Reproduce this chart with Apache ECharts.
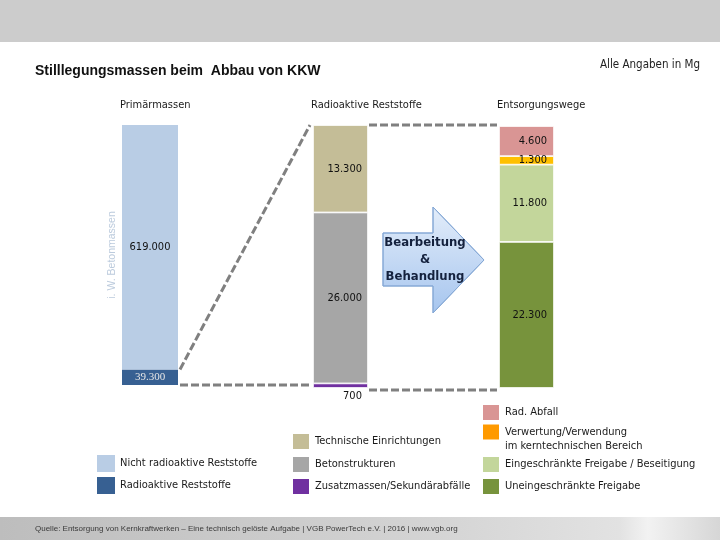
<!DOCTYPE html>
<html>
<head>
<meta charset="utf-8">
<script src="https://cdn.jsdelivr.net/npm/echarts@6/dist/echarts.min.js"></script>
<style>html,body{margin:0;padding:0;background:#fff}#c{width:720px;height:540px}</style>
</head>
<body>
<div id="c"></div>
<script>
// ---- data ----
const columnHeaders = ['Primärmassen', 'Radioaktive Reststoffe', 'Entsorgungswege'];
const primaryNames = ['Radioaktive Reststoffe', 'Nicht radioaktive Reststoffe'];
const primaryValues = [39300, 619000];
const radioNames = ['Zusatzmassen/Sekundärabfälle', 'Betonstrukturen', 'Technische Einrichtungen'];
const radioValues = [700, 26000, 13300];
const disposalNames = ['Uneingeschränkte Freigabe', 'Eingeschränkte Freigabe / Beseitigung', 'Verwertung/Verwendung im kerntechnischen Bereich', 'Rad. Abfall'];
const disposalValues = [22300, 11800, 1300, 4600];

// ---- styling ----
const NARROW = "'Liberation Sans Narrow','DejaVu Sans Condensed','Liberation Sans',sans-serif";
const SANS = "'Liberation Sans',Arial,sans-serif";
const primaryColors = ['#376092', '#b9cde5'];
const radioColors = ['#7030a0', '#a6a6a6', '#c4bd97'];
const disposalColors = ['#77933c', '#c3d69b', '#ffc000', '#d99594'];
const G = [
  {left: 122, top: 125, width: 56, height: 260},
  {left: 313, top: 125, width: 55, height: 263},
  {left: 499, top: 126, width: 55, height: 262}
];
const sum = a => a.reduce((s, v) => s + v, 0);
const fmt = v => String(v).replace(/\B(?=(\d{3})+(?!\d))/g, '.');

const chart = echarts.init(document.getElementById('c'));

function barSeries(names, values, colors, gi, labelFn) {
  return names.map((n, i) => ({
    type: 'bar', name: n, stack: 's' + gi, xAxisIndex: gi, yAxisIndex: gi,
    barWidth: '100%', data: [values[i]],
    itemStyle: {color: colors[i], borderColor: '#fff', borderWidth: (gi === 0 ? 0 : 0.8)},
    label: Object.assign({show: true, formatter: p => fmt(p.value), fontFamily: NARROW, fontSize: 11, color: '#111'}, labelFn(i)),
    emphasis: {disabled: true}
  }));
}

const series = [].concat(
  barSeries(primaryNames, primaryValues, primaryColors, 0, i => i === 0
    ? {position: 'inside', color: '#e6e6e6', fontFamily: "'Liberation Serif',serif", fontSize: 11}
    : {position: 'inside'}),
  barSeries(radioNames, radioValues, radioColors, 1, i => i === 0
    ? {position: 'bottom', distance: 3, offset: [12, 0]}
    : {position: 'insideRight', distance: 6}),
  barSeries(disposalNames, disposalValues, disposalColors, 2, i => ({position: 'insideRight', distance: 7}))
);

const hiddenAxis = {axisLine: {show: false}, axisTick: {show: false}, axisLabel: {show: false}, splitLine: {show: false}};

// legends: one component per item, positioned
const legendTxt = {fontFamily: NARROW, fontSize: 11, color: '#1a1a1a'};
const legendItems = [
  {name: 'Nicht radioaktive Reststoffe', left: 97, top: 455},
  {name: 'Radioaktive Reststoffe', left: 97, top: 477},
  {name: 'Technische Einrichtungen', left: 291, top: 432},
  {name: 'Betonstrukturen', left: 291, top: 455},
  {name: 'Zusatzmassen/Sekundärabfälle', left: 291, top: 477},
  {name: 'Rad. Abfall', left: 481, top: 403},
  {name: 'Verwertung/Verwendung im kerntechnischen Bereich', left: 481, top: 411, two: true, color: '#ff9a00'},
  {name: 'Eingeschränkte Freigabe / Beseitigung', left: 481, top: 455},
  {name: 'Uneingeschränkte Freigabe', left: 481, top: 477}
];
const legends = legendItems.map(it => ({
  data: [it.color ? {name: it.name, itemStyle: {color: it.color}} : it.name],
  left: it.left, top: it.top, padding: 0, orient: 'vertical', icon: 'rect',
  itemWidth: 18, itemHeight: 17, itemGap: 0, selectedMode: false,
  formatter: it.two ? (n => '\n' + n.replace(' im ', '\nim ')) : undefined,
  textStyle: it.two ? Object.assign({lineHeight: 14}, legendTxt) : legendTxt
}));

const staticGraphics = [
  {id: 'topband', type: 'rect', z: -10, shape: {x: 0, y: 0, width: 720, height: 42}, style: {fill: '#cccccc'}},
  {id: 'footer', type: 'rect', z: -10, shape: {x: 0, y: 517, width: 720, height: 23},
    style: {fill: new echarts.graphic.LinearGradient(0, 0, 1, 0, [
      {offset: 0, color: '#bdbdbd'}, {offset: 0.6, color: '#d4d4d4'}, {offset: 0.86, color: '#e2e2e2'},
      {offset: 0.9, color: '#f2f2f2'}, {offset: 0.95, color: '#e4e4e4'}, {offset: 1, color: '#d6d6d6'}])}},
  {id: 'footertext', type: 'text', x: 35, y: 529, style: {text: 'Quelle: Entsorgung von Kernkraftwerken – Eine technisch gelöste Aufgabe | VGB PowerTech e.V. | 2016 | www.vgb.org',
    fontFamily: SANS, fontSize: 8, fill: '#3a3a3a', verticalAlign: 'middle'}},
  {id: 'arrow', type: 'polygon', shape: {points: [[383, 233], [433, 233], [433, 207], [484, 260], [433, 313], [433, 286], [383, 286]]},
    style: {fill: new echarts.graphic.LinearGradient(0, 0, 0, 1, [{offset: 0, color: '#e3edfa'}, {offset: 1, color: '#a6c5ee'}]),
      stroke: '#86a9d6', lineWidth: 1}},
  {id: 'arrowtext', type: 'text', x: 425, y: 260, style: {text: 'Bearbeitung\n&\nBehandlung', fontFamily: NARROW, fontWeight: 'bold',
    fontSize: 13, lineHeight: 17, fill: '#14213d', align: 'center', verticalAlign: 'middle'}}
];

const option = {
  animation: false,
  backgroundColor: '#fff',
  title: [
    {text: 'Stilllegungsmassen beim  Abbau von KKW', left: 35, top: 64, padding: 0,
      textStyle: {fontFamily: SANS, fontWeight: 'bold', fontSize: 14, color: '#111'}},
    {text: 'Alle Angaben in Mg', right: 20, top: 59, padding: 0,
      textStyle: {fontFamily: NARROW, fontWeight: 'normal', fontSize: 11.5, color: '#222'}},
    ...columnHeaders.map((h, i) => ({text: h, left: G[i].left - 2, top: 100, padding: 0,
      textStyle: {fontFamily: NARROW, fontWeight: 'normal', fontSize: 11, color: '#1a1a1a'}}))
  ],
  grid: G.map(g => Object.assign({containLabel: false}, g)),
  xAxis: G.map((g, i) => Object.assign({type: 'category', gridIndex: i, data: [columnHeaders[i]]}, hiddenAxis)),
  yAxis: [
    Object.assign({type: 'value', gridIndex: 0, min: 0, max: sum(primaryValues),
      name: 'i. W. Betonmassen', nameLocation: 'middle', nameGap: 4,
      nameTextStyle: {fontFamily: SANS, fontSize: 10.5, color: '#bccbdd'}}, hiddenAxis),
    Object.assign({type: 'value', gridIndex: 1, min: 0, max: sum(radioValues)}, hiddenAxis),
    Object.assign({type: 'value', gridIndex: 2, min: 0, max: sum(disposalValues)}, hiddenAxis)
  ],
  legend: legends,
  series: series,
  graphic: {elements: staticGraphics}
};
chart.setOption(option);

// connector dashed lines computed from axis scales
const yAt = (gi, v) => chart.convertToPixel({xAxisIndex: gi, yAxisIndex: gi}, [0, v])[1];
const dash = {stroke: '#808080', lineWidth: 3, lineDash: [8, 3]};
const r0 = G[0].left + G[0].width + 2, l1 = G[1].left - 3;
const r1 = G[1].left + G[1].width + 1, l2 = G[2].left - 2;
const lines = [
  {id: 'l1', type: 'line', shape: {x1: r0, y1: yAt(0, primaryValues[0]), x2: l1, y2: yAt(1, sum(radioValues))}, style: dash},
  {id: 'l2', type: 'line', shape: {x1: r0, y1: yAt(0, 0), x2: l1, y2: yAt(0, 0)}, style: dash},
  {id: 'l3', type: 'line', shape: {x1: r1, y1: yAt(1, sum(radioValues)), x2: l2, y2: yAt(1, sum(radioValues))}, style: dash},
  {id: 'l4', type: 'line', shape: {x1: r1, y1: yAt(1, 0) + 2, x2: l2, y2: yAt(2, 0) + 2}, style: dash}
];
chart.setOption({graphic: {elements: staticGraphics.concat(lines)}});
</script>
</body>
</html>
